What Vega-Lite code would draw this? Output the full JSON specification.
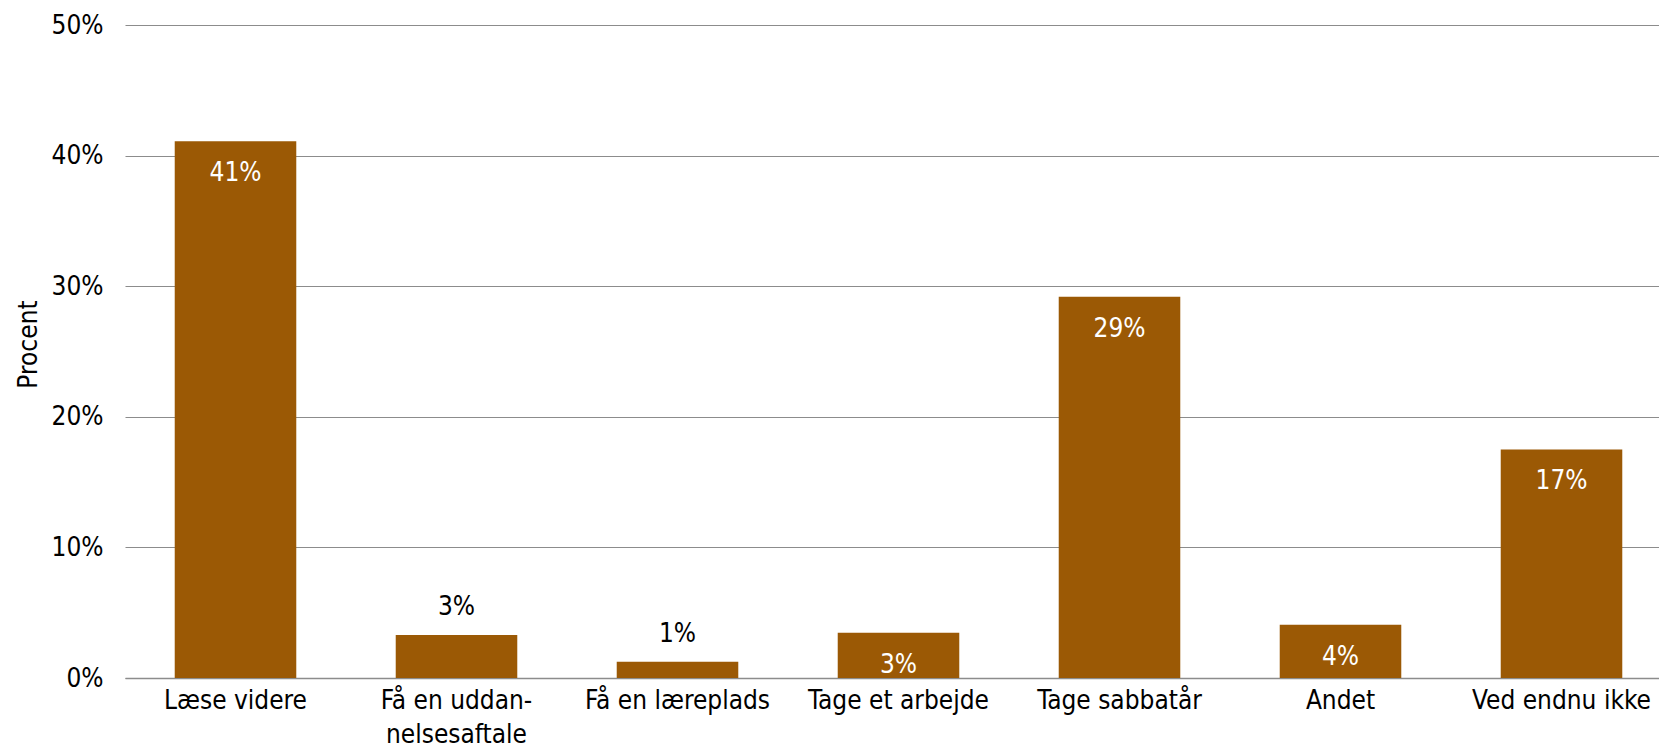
{
  "$schema": "https://vega.github.io/schema/vega-lite/v6.json",
  "autosize": {"type": "none"},
  "width": 1547,
  "height": 653,
  "padding": {"left": 125, "top": 25, "right": 0, "bottom": 74},
  "background": "white",
  "config": {
    "font": "DejaVu Sans Condensed",
    "view": {"stroke": null},
    "axis": {"labelFont": "DejaVu Sans Condensed", "titleFont": "DejaVu Sans Condensed", "labelColor": "#000000", "titleColor": "#000000"}
  },
  "data": {
    "values": [
      {"kategori": "Læse videre", "andel": 41.1, "tekst": "41%"},
      {"kategori": "Få en uddan-\nnelsesaftale", "andel": 3.3, "tekst": "3%"},
      {"kategori": "Få en læreplads", "andel": 1.25, "tekst": "1%"},
      {"kategori": "Tage et arbejde", "andel": 3.47, "tekst": "3%"},
      {"kategori": "Tage sabbatår", "andel": 29.2, "tekst": "29%"},
      {"kategori": "Andet", "andel": 4.08, "tekst": "4%"},
      {"kategori": "Ved endnu ikke", "andel": 17.5, "tekst": "17%"}
    ]
  },
  "encoding": {
    "x": {
      "field": "kategori",
      "type": "nominal",
      "sort": null,
      "scale": {"paddingInner": 0.45, "paddingOuter": 0.225},
      "axis": {
        "title": null,
        "labelAngle": 0,
        "labelFontSize": 26,
        "labelPadding": 9,
        "labelLineHeight": 34,
        "labelLimit": 0,
        "labelOverlap": false,
        "labelExpr": "split(datum.label, '\\n')",
        "ticks": false,
        "domain": true,
        "domainColor": "#8c8c8c",
        "domainWidth": 1.5,
        "labelBaseline": "top"
      }
    },
    "y": {
      "field": "andel",
      "type": "quantitative",
      "scale": {"domain": [0, 50]},
      "axis": {
        "title": "Procent",
        "titleFontSize": 26,
        "titleFontWeight": "normal",
        "titleX": -97,
        "titleY": 319,
        "titleBaseline": "middle",
        "values": [0, 10, 20, 30, 40, 50],
        "labelExpr": "datum.value + '%'",
        "labelFontSize": 26,
        "labelPadding": 22,
        "ticks": false,
        "domain": false,
        "grid": true,
        "gridColor": "#8c8c8c",
        "gridWidth": 1.2
      }
    }
  },
  "layer": [
    {
      "mark": {"type": "bar", "color": "#9B5905"}
    },
    {
      "transform": [{"filter": "datum.andel >= 3.4"}],
      "mark": {"type": "text", "color": "white", "fontSize": 26, "baseline": "top", "dy": 19},
      "encoding": {"text": {"field": "tekst"}}
    },
    {
      "transform": [{"filter": "datum.andel < 3.4"}],
      "mark": {"type": "text", "color": "black", "fontSize": 26, "baseline": "alphabetic", "dy": -20},
      "encoding": {"text": {"field": "tekst"}}
    }
  ]
}
